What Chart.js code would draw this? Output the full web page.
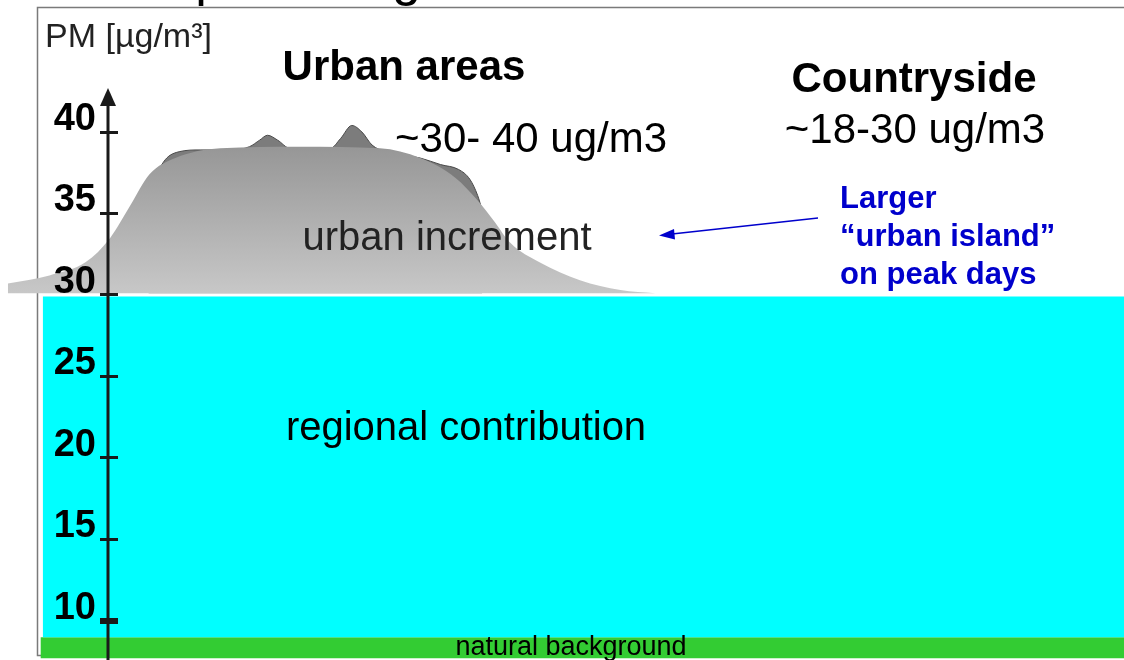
<!DOCTYPE html>
<html>
<head>
<meta charset="utf-8">
<script src="https://cdn.jsdelivr.net/npm/chart.js@4.4.1/dist/chart.umd.min.js"></script>
<style>
  html, body { margin: 0; padding: 0; background: #fff; overflow: hidden; }
  canvas { display: block; }
</style>
</head>
<body>
<canvas id="grafico" width="1124" height="660"></canvas>
<script>
// position across the cross-section (arbitrary units, 0 = left edge, 100 = right edge)
const humpX  = [0.7, 4.4, 7.6, 9.8, 11.6, 13.3, 15.6, 19.6, 26.7, 33.8, 37.4, 40.5, 42.5, 44.0, 45.4, 48.0, 51.6, 55.2, 58.3];
const humpPM = [30.7, 31.2, 32.0, 33.5, 35.5, 37.4, 38.4, 39.0, 39.1, 39.0, 38.4, 37.2, 35.8, 34.5, 33.2, 32.0, 30.9, 30.3, 30.1];

const peaksX  = [13.2, 14.7, 16.0, 17.8, 20.5, 22.2, 23.1, 23.8, 24.7, 25.8, 29.4, 30.3, 31.3, 32.2, 33.1, 34.3, 37.4, 39.2, 40.8, 41.8, 42.5, 42.9];
const peaksPM = [36.4, 38.3, 38.8, 38.9, 38.9, 39.1, 39.5, 39.8, 39.5, 39.0, 39.0, 39.6, 40.4, 40.0, 39.2, 38.8, 38.4, 38.0, 37.7, 37.1, 36.1, 35.2];

const urbanBase = 30.1;
const regionalX = [3.8, 100];
const regionalTop = 29.9;
const regionalBase = 9.0;
const naturalX = [3.6, 100];
const naturalBase = 7.7;

const yTicks = [10, 15, 20, 25, 30, 35, 40];
const yMin = 7.6;
const yMax = 42.7;
const axisX = 9.6;

const FONTE = '"Liberation Sans", Arial, sans-serif';

function pontos(xs, ys) {
  return xs.map((x, i) => ({ x, y: Array.isArray(ys) ? ys[i] : ys }));
}

function texto(ctx, str, x, y, font, color, align) {
  ctx.save();
  ctx.font = font;
  ctx.fillStyle = color;
  ctx.textAlign = align || 'left';
  ctx.textBaseline = 'alphabetic';
  ctx.fillText(str, x, y);
  ctx.restore();
}

const desenho = {
  id: 'desenho',
  beforeDraw(chart) {
    const ctx = chart.ctx;
    ctx.save();
    ctx.fillStyle = '#fff';
    ctx.fillRect(0, 0, chart.width, chart.height);
    // moldura
    ctx.strokeStyle = '#7a7a7a';
    ctx.lineWidth = 1.5;
    ctx.strokeRect(37.5, 7.5, 1100, 648);
    ctx.restore();
    texto(ctx, 'Conceptual diagram', 45, -5, '52px ' + FONTE, '#000');
  },
  afterDatasetsDraw(chart) {
    const ctx = chart.ctx;
    const y = chart.scales.y;
    const ax = Math.round(chart.scales.x.getPixelForValue(axisX));
    const top = chart.chartArea.top;
    const bottom = chart.chartArea.bottom;

    ctx.save();
    ctx.fillStyle = '#1a1a1a';
    ctx.strokeStyle = '#1a1a1a';
    ctx.lineWidth = 3;
    ctx.beginPath();
    ctx.moveTo(ax, top + 16);
    ctx.lineTo(ax, bottom);
    ctx.stroke();
    // seta do eixo
    ctx.beginPath();
    ctx.moveTo(ax, top);
    ctx.lineTo(ax - 8, top + 18);
    ctx.lineTo(ax + 8, top + 18);
    ctx.closePath();
    ctx.fill();

    yTicks.forEach(v => {
      const py = y.getPixelForValue(v);
      const h = v === 10 ? 6 : 3;
      ctx.fillRect(ax - 8, Math.round(py - h / 2), 18, h);
      texto(ctx, String(v), ax - 12, py - 2, 'bold 38px ' + FONTE, '#000', 'right');
    });
    ctx.restore();

    texto(ctx, 'PM [µg/m³]', 45, 47, '34px ' + FONTE, '#222');
    texto(ctx, 'Urban areas', 404, 80, 'bold 42px ' + FONTE, '#000', 'center');
    texto(ctx, 'Countryside', 914, 92, 'bold 42px ' + FONTE, '#000', 'center');
    texto(ctx, '~18-30 ug/m3', 915, 143, '42px ' + FONTE, '#000', 'center');
    texto(ctx, '~30- 40 ug/m3', 395, 152, '42px ' + FONTE, '#000');
    texto(ctx, 'urban increment', 447, 250, '40px ' + FONTE, '#222', 'center');
    texto(ctx, 'regional contribution', 466, 440, '40px ' + FONTE, '#000', 'center');
    texto(ctx, 'natural background', 571, 655, '27px ' + FONTE, '#000', 'center');

    const azul = '#0000cc';
    texto(ctx, 'Larger', 840, 208, 'bold 31px ' + FONTE, azul);
    texto(ctx, '“urban island”', 840, 246, 'bold 31px ' + FONTE, azul);
    texto(ctx, 'on peak days', 840, 284, 'bold 31px ' + FONTE, azul);

    ctx.save();
    ctx.strokeStyle = azul;
    ctx.fillStyle = azul;
    ctx.lineWidth = 1.5;
    ctx.beginPath();
    ctx.moveTo(818, 218);
    ctx.lineTo(672, 234);
    ctx.stroke();
    ctx.beginPath();
    ctx.moveTo(659, 235.5);
    ctx.lineTo(674, 229);
    ctx.lineTo(675, 239.5);
    ctx.closePath();
    ctx.fill();
    ctx.restore();
  }
};

new Chart(document.getElementById('grafico'), {
  type: 'line',
  data: {
    datasets: [
      {
        label: 'urban increment',
        data: pontos(humpX, humpPM),
        borderWidth: 0,
        borderColor: 'transparent',
        backgroundColor: (c) => {
          const chart = c.chart;
          if (!chart.chartArea) return '#aaa';
          const sy = chart.scales.y;
          const g = chart.ctx.createLinearGradient(0, sy.getPixelForValue(39), 0, sy.getPixelForValue(30));
          g.addColorStop(0, '#979797');
          g.addColorStop(1, '#c8c8c8');
          return g;
        },
        fill: { value: urbanBase },
        cubicInterpolationMode: 'monotone',
        pointRadius: 0
      },
      {
        label: 'peaks',
        data: pontos(peaksX, peaksPM),
        borderWidth: 1,
        borderColor: '#4a4a4a',
        backgroundColor: '#7c7c7c',
        fill: { value: urbanBase },
        cubicInterpolationMode: 'monotone',
        pointRadius: 0
      },
      {
        label: 'regional contribution',
        data: pontos(regionalX, regionalTop),
        borderWidth: 0,
        borderColor: 'transparent',
        backgroundColor: '#00ffff',
        fill: { value: regionalBase },
        pointRadius: 0
      },
      {
        label: 'natural background',
        data: pontos(naturalX, regionalBase),
        borderWidth: 0,
        borderColor: 'transparent',
        backgroundColor: '#33cc33',
        fill: { value: naturalBase },
        pointRadius: 0
      }
    ]
  },
  options: {
    responsive: false,
    animation: false,
    layout: { padding: { top: 88, left: 0, right: 0, bottom: 0 }, autoPadding: false },
    scales: {
      x: { type: 'linear', min: 0, max: 100, display: false },
      y: { type: 'linear', min: yMin, max: yMax, display: false }
    },
    plugins: {
      legend: { display: false },
      tooltip: { enabled: false }
    }
  },
  plugins: [desenho]
});
</script>
</body>
</html>
